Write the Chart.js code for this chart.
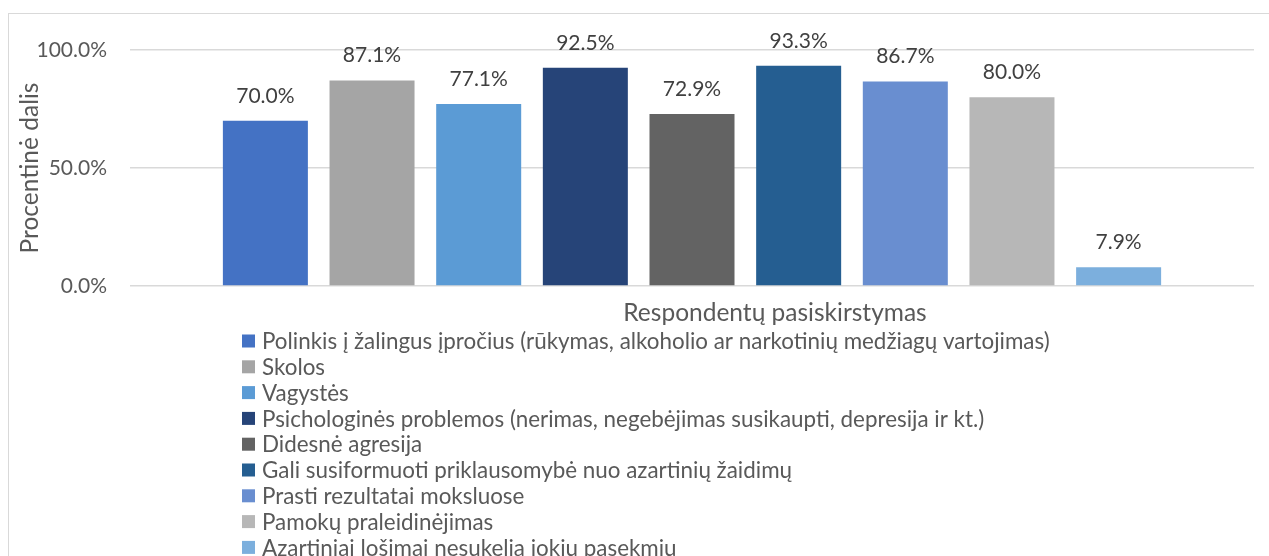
<!DOCTYPE html>
<html>
<head>
<meta charset="utf-8">
<script src="https://cdn.jsdelivr.net/npm/chart.js@4.4.1/dist/chart.umd.min.js"></script>
<style>
  html, body { margin: 0; padding: 0; background: #fff; }
  #wrap { width: 1269px; height: 556px; }
</style>
</head>
<body>
<div id="wrap"><canvas id="chart"></canvas></div>
<script>
// category (only one group of bars)
const categories = ["Respondentų pasiskirstymas"];

// series names (legend)
const seriesNames = [
  "Polinkis į žalingus įpročius (rūkymas, alkoholio ar narkotinių medžiagų vartojimas)",
  "Skolos",
  "Vagystės",
  "Psichologinės problemos (nerimas, negebėjimas susikaupti, depresija ir kt.)",
  "Didesnė agresija",
  "Gali susiformuoti priklausomybė nuo azartinių žaidimų",
  "Prasti rezultatai moksluose",
  "Pamokų praleidinėjimas",
  "Azartiniai lošimai nesukelia jokių pasekmių",
];

// values, %
const seriesValues = [70.0, 87.1, 77.1, 92.5, 72.9, 93.3, 86.7, 80.0, 7.9];

const seriesColors = [
  "#4472C4",
  "#A5A5A5",
  "#5B9BD5",
  "#264478",
  "#636363",
  "#255E91",
  "#698ED0",
  "#B7B7B7",
  "#7CAFDD",
];

const yTicks = [0, 50, 100];

const FONT = "Lato";
const textGray = "#595959";

// рамка вокруг диаграммы
const framePlugin = {
  id: "frame",
  beforeDraw(chart) {
    const ctx = chart.ctx;
    ctx.save();
    ctx.fillStyle = "#ffffff";
    ctx.fillRect(0, 0, chart.width, chart.height);
    ctx.strokeStyle = "#d9d9d9";
    ctx.lineWidth = 1;
    ctx.strokeRect(8.5, 13.5, chart.width + 20, chart.height + 20);
    ctx.restore();
  },
};

// подписи значений над столбцами
const valueLabels = {
  id: "valueLabels",
  afterDatasetsDraw(chart) {
    const ctx = chart.ctx;
    ctx.save();
    ctx.font = `21px ${FONT}`;
    ctx.fillStyle = "#404040";
    ctx.textAlign = "center";
    ctx.textBaseline = "alphabetic";
    chart.data.datasets.forEach((ds, i) => {
      const bar = chart.getDatasetMeta(i).data[0];
      ctx.fillText(ds.data[0].toFixed(1) + "%", bar.x, bar.y - 18);
    });
    ctx.restore();
  },
};

// название оси X и легенда списком
const bottomBlock = {
  id: "bottomBlock",
  afterDraw(chart) {
    const ctx = chart.ctx;
    const area = chart.chartArea;
    ctx.save();
    ctx.fillStyle = textGray;
    ctx.font = `24.5px ${FONT}`;
    ctx.textAlign = "center";
    ctx.textBaseline = "alphabetic";
    ctx.fillText(chart.data.labels[0], (area.left + area.right) / 2 + 83, area.bottom + 35);

    ctx.font = `22.4px ${FONT}`;
    ctx.textAlign = "left";
    ctx.textBaseline = "middle";
    chart.data.datasets.forEach((ds, i) => {
      const cy = area.bottom + 55 + i * 25.8;
      ctx.fillStyle = ds.backgroundColor;
      ctx.fillRect(area.left + 112, cy - 6.5, 13, 13);
      ctx.fillStyle = textGray;
      ctx.fillText(ds.label, area.left + 132, cy + 1);
    });
    ctx.restore();
  },
};

const datasets = seriesNames.map((name, i) => ({
  label: name,
  data: [seriesValues[i]],
  backgroundColor: seriesColors[i],
  categoryPercentage: 0.854,
  barPercentage: 0.797,
}));

new Chart(document.getElementById("chart"), {
  type: "bar",
  data: { labels: categories, datasets: datasets },
  plugins: [framePlugin, valueLabels, bottomBlock],
  options: {
    responsive: true,
    maintainAspectRatio: false,
    animation: false,
    layout: { padding: { left: 8, top: 50, right: 15, bottom: 270 } },
    plugins: {
      legend: { display: false },
      tooltip: { enabled: false },
    },
    scales: {
      x: {
        ticks: { display: false },
        grid: { display: false },
        border: { display: false },
        afterFit(scale) { scale.height = 0; },
      },
      y: {
        min: 0,
        max: 100,
        afterBuildTicks(scale) { scale.ticks = yTicks.map((v) => ({ value: v })); },
        ticks: {
          callback: (v) => v.toFixed(1) + "%",
          color: textGray,
          font: { family: FONT, size: 21 },
          padding: 23,
        },
        grid: { color: "#d9d9d9", lineWidth: 1.5, drawTicks: false },
        border: { display: false },
        title: {
          display: true,
          text: "Procentinė dalis",
          color: textGray,
          font: { family: FONT, size: 24.5 },
          padding: { top: 7, bottom: 0 },
        },
        afterFit(scale) { scale.width = 122; },
      },
    },
  },
});
</script>
</body>
</html>
